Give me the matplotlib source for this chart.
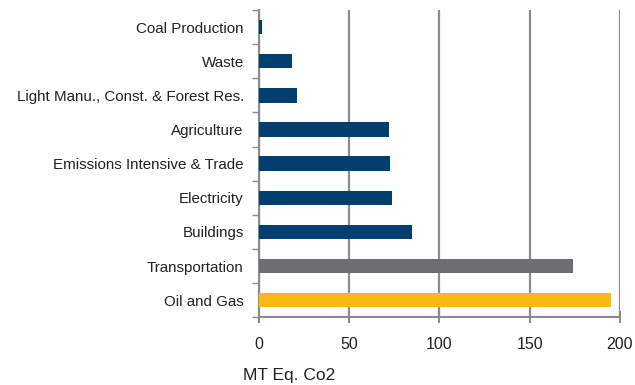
import numpy as np
import matplotlib
matplotlib.use("Agg")
import matplotlib.pyplot as plt
from matplotlib.ticker import FixedLocator

plt.rcParams["font.family"] = ["Liberation Sans", "DejaVu Sans"]

sectors = ["Coal Production", "Waste", "Light Manu., Const. & Forest Res.",
           "Agriculture", "Emissions Intensive & Trade", "Electricity",
           "Buildings", "Transportation", "Oil and Gas"]
emissions = [1.4, 18.1, 20.9, 71.9, 72.6, 73.8, 84.7, 174.2, 194.9]
colors = ["#003F6E"] * 7 + ["#6D6E71", "#FDB813"]
xticks = [0, 50, 100, 150, 200]

fig = plt.figure(figsize=(6.35, 3.85), dpi=100)
ax = fig.add_axes([0.408, 0.176, 0.568, 0.798])

y = np.arange(len(sectors))[::-1]
ax.barh(y, emissions, height=0.42, color=colors, zorder=3)

ax.set_xlim(0, 200)
ax.set_ylim(-0.5, len(sectors) - 0.5)
ax.set_xticks(xticks)
ax.set_yticks(y)
ax.set_yticklabels(sectors, fontsize=10.9, color="#222222")
ax.yaxis.set_minor_locator(FixedLocator(np.arange(-0.5, len(sectors), 1)))
ax.tick_params(axis="y", which="major", length=0, pad=11)
ax.tick_params(axis="y", which="minor", length=5, width=1, color="#8C8C8C")
ax.tick_params(axis="x", direction="inout", length=8, width=1.5,
               color="#8C8C8C", pad=10, labelsize=11.5, labelcolor="#222222")

ax.grid(axis="x", color="#8C8C8C", lw=1.6, zorder=0)
for s in ("top", "right"):
    ax.spines[s].set_visible(False)
for s in ("left", "bottom"):
    ax.spines[s].set_color("#8C8C8C")
    ax.spines[s].set_linewidth(1.5)

fig.text(0.383, 0.012, "MT Eq. Co2", fontsize=12.5, color="#222222")

fig.savefig("out.png", dpi=100)
